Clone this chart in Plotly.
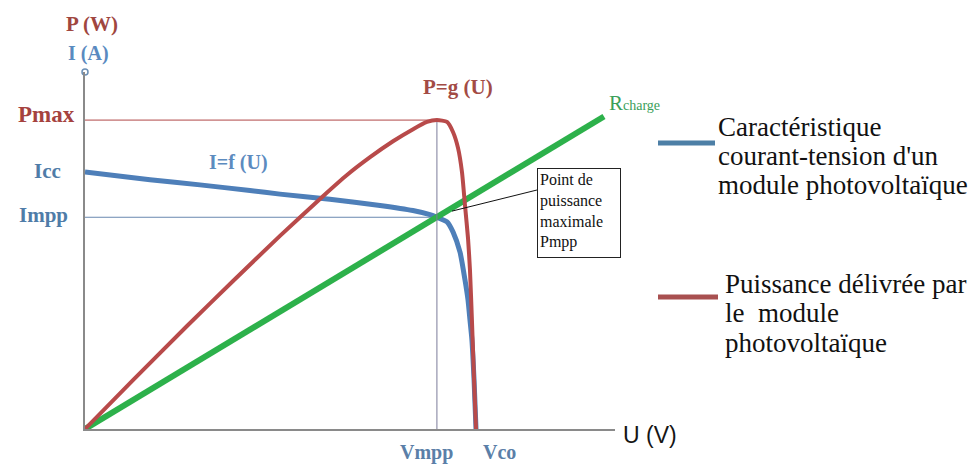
import plotly.graph_objects as go

# ---- data (U in V, I in A, P in W) ----
u_iv = [0.0, 3.66, 6.47, 9.28, 10.97, 13.78, 16.60, 18.45, 19.41, 19.80, 20.37, 20.71,
        21.10, 21.38, 21.55, 21.66, 21.77, 21.89, 22.0]
i_iv = [5.00, 4.85, 4.75, 4.64, 4.57, 4.47, 4.35, 4.25, 4.17, 4.12, 4.03, 3.83,
        3.44, 2.90, 2.51, 2.12, 1.73, 0.95, 0.0]

u_pv = [0.0, 2.70, 5.74, 8.33, 10.97, 13.39, 14.74, 16.04, 17.33, 18.46, 19.24,
        19.80, 20.37, 20.71, 20.99, 21.21, 21.38, 21.55, 21.66, 21.77, 21.89, 22.0]
p_pv = [0.0, 12.9, 27.2, 39.1, 51.0, 61.5, 67.1, 71.8, 76.0, 79.2, 81.1,
        81.6, 81.1, 78.4, 74.2, 67.9, 59.1, 50.4, 42.0, 28.8, 12.9, 0.0]

u_load = [0.0, 29.2]
i_load = [0.0, 6.08]

Vmpp, Vco = 19.8, 22.0
Icc, Impp = 5.0, 4.12
Pmax = 81.6

U_MAX, I_MAX, P_MAX = 29.82, 6.946, 94.3

BLUE = "#4e7fb9"
RED = "#b84a4a"
GREEN = "#2db14b"
SERIF = "Liberation Serif, Times New Roman, serif"

fig = go.Figure()

# guide lines
fig.add_trace(go.Scatter(x=[0, Vmpp], y=[Pmax, Pmax], yaxis="y2", mode="lines",
                         line=dict(color="#b04848", width=1), hoverinfo="skip"))
fig.add_trace(go.Scatter(x=[0, Vmpp], y=[Impp, Impp], mode="lines",
                         line=dict(color="#6a88b0", width=1), hoverinfo="skip"))
fig.add_trace(go.Scatter(x=[Vmpp, Vmpp], y=[0, Pmax], yaxis="y2", mode="lines",
                         line=dict(color="#7c7c9a", width=1), hoverinfo="skip"))

# curves
fig.add_trace(go.Scatter(x=u_iv, y=i_iv, mode="lines", name="I=f(U)",
                         line=dict(color=BLUE, width=5, shape="spline", smoothing=0.6)))
fig.add_trace(go.Scatter(x=u_pv, y=p_pv, yaxis="y2", mode="lines", name="P=g(U)",
                         line=dict(color=RED, width=4, shape="spline", smoothing=0.6)))
fig.add_trace(go.Scatter(x=u_load, y=i_load, mode="lines", name="Rcharge",
                         line=dict(color=GREEN, width=6)))

# axis end circle
fig.add_trace(go.Scatter(x=[0], y=[I_MAX], mode="markers", cliponaxis=False,
                         marker=dict(symbol="circle-open", size=6, color="#6b8fb5",
                                     line=dict(width=1.5, color="#6b8fb5")),
                         hoverinfo="skip"))

# page body has an 8px margin: compensate so the plot lands at the reference pixels
OFF = 8
FIG_W, FIG_H = 979 - OFF, 466 - OFF
L, B, W, H = 85, 429, 530, 357   # reference pixel geometry of the plot area


def pxx(xp):
    return (xp - L) / W


def pxy(yp):
    return (B - yp) / H


ann = []


def label(text, xp, yp, size, color, family=SERIF, xanchor="center", yanchor="middle"):
    ann.append(dict(text=text, x=pxx(xp), y=pxy(yp), xref="paper", yref="paper",
                    showarrow=False, xanchor=xanchor, yanchor=yanchor,
                    font=dict(family=family, size=size, color=color)))


label("<b>P (W)</b>", 92, 24, 21, "#a0463f")
label("<b>I (A)</b>", 88, 54, 20, "#5a8ac0")
label("<b>Pmax</b>", 46, 114, 23, "#a5423e")
label("<b>Icc</b>", 47, 171, 21, "#4f7ca8")
label("<b>Impp</b>", 43, 215, 21, "#4f7ca8")
label("<b>I=f (U)</b>", 238, 162, 20, "#5c8bbf")
label("<b>P=g (U)</b>", 458, 87, 21, "#a34b45")
label("R<span style='font-size:14px'>charge</span>", 607, 103, 21, "#3aa05a", xanchor="left")
label("<b>Vmpp</b>", 426, 452, 20, "#5b7fa8")
label("<b>Vco</b>", 499, 452, 20, "#5b7fa8")
label("U (V)", 650, 435, 23, "#151515", family="Liberation Sans")

for t, y in zip(["Caractéristique", "courant-tension d'un", "module photovoltaïque"],
                [127, 156, 185]):
    label(t, 716, y, 27, "#111111", xanchor="left")
for t, y in zip(["Puissance délivrée par", "le&nbsp; module", "photovoltaïque"],
                [284, 313, 343]):
    label(t, 723, y, 27, "#111111", xanchor="left")

ann.append(dict(text="Point de<br>puissance<br>maximale<br>Pmpp",
                x=pxx(537), y=pxy(168), xref="paper", yref="paper", showarrow=False,
                xanchor="left", yanchor="top", align="left", valign="top",
                width=78, height=84, borderpad=2, bgcolor="white",
                bordercolor="#222222", borderwidth=1,
                font=dict(family=SERIF, size=16, color="#111111")))

shapes = [
    dict(type="line", xref="x", yref="y", x0=20.65, y0=4.24, x1=25.43, y1=4.65,
         line=dict(color="#111111", width=1)),
    dict(type="line", xref="paper", yref="paper", x0=pxx(658), x1=pxx(715),
         y0=pxy(143), y1=pxy(143), line=dict(color="#4d7fa6", width=5)),
    dict(type="line", xref="paper", yref="paper", x0=pxx(658), x1=pxx(718),
         y0=pxy(297), y1=pxy(297), line=dict(color="#a85050", width=5)),
]

fig.update_layout(
    width=FIG_W, height=FIG_H,
    margin=dict(l=L - OFF, r=FIG_W - (L - OFF) - W, t=(B - H) - OFF,
                b=FIG_H - (B - OFF), autoexpand=False),
    paper_bgcolor="white", plot_bgcolor="white",
    showlegend=False,
    xaxis=dict(range=[0, U_MAX], showline=True, linecolor="#8a8a8a", linewidth=2,
               showgrid=False, zeroline=False, showticklabels=False, ticks=""),
    yaxis=dict(range=[0, I_MAX], showline=True, linecolor="#8a8a8a", linewidth=2,
               showgrid=False, zeroline=False, showticklabels=False, ticks=""),
    yaxis2=dict(range=[0, P_MAX], overlaying="y", visible=False),
    annotations=ann,
    shapes=shapes,
)

fig.write_html("out.html")
